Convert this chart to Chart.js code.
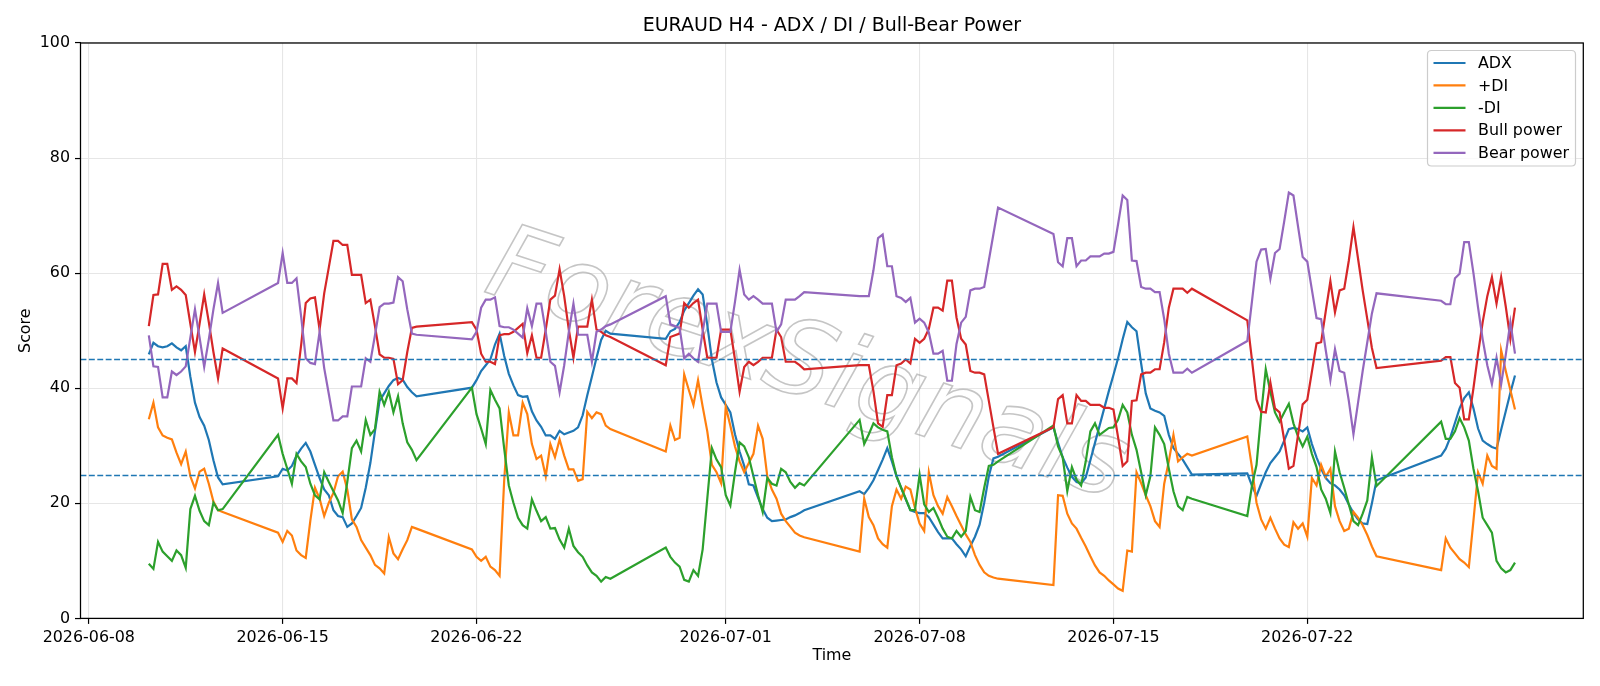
<!DOCTYPE html>
<html>
<head>
<meta charset="utf-8">
<script src="https://cdn.jsdelivr.net/npm/chart.js@4.4.1/dist/chart.umd.min.js"></script>
<style>
html,body{margin:0;padding:0;background:#ffffff;}
#wrap{width:1600px;height:686px;position:relative;}
</style>
</head>
<body>
<div id="wrap"><canvas id="c" width="1600" height="686"></canvas></div>
<script>
// ---- DATA (H4 bars, grouped by trading session: start time, bar count) ----
const sessions = [
  ["2026-06-10T04:00:00Z", 17],
  ["2026-06-14T20:00:00Z", 31],
  ["2026-06-21T20:00:00Z", 31],
  ["2026-06-28T20:00:00Z", 31],
  ["2026-07-05T20:00:00Z", 31],
  ["2026-07-12T20:00:00Z", 31],
  ["2026-07-19T20:00:00Z", 29],
  ["2026-07-26T20:00:00Z", 17]
];
const tickDates = ["2026-06-08","2026-06-15","2026-06-22","2026-07-01","2026-07-08","2026-07-15","2026-07-22"];
const yTicks = [0, 20, 40, 60, 80, 100];
const thresholds = [45, 25];
const seriesNames = ["ADX", "+DI", "-DI", "Bull power", "Bear power"];

const adx = [
  45.9,47.9,47.3,47.1,47.3,47.8,47.1,46.6,47.3,42.0,37.5,35.0,33.5,31.0,27.5,24.5,23.3,
  24.7,26.0,25.7,26.5,28.3,29.5,30.5,29.0,26.7,24.4,22.4,21.4,18.8,17.8,17.6,15.9,16.5,17.8,19.2,22.7,27.0,32.5,37.8,39.1,40.4,41.4,41.8,41.5,40.2,39.3,38.6,
  40.1,41.4,43.0,44.0,45.0,47.6,49.5,45.6,42.5,40.5,38.8,38.5,38.6,36.0,34.4,33.3,31.8,31.8,31.2,32.6,32.0,32.3,32.6,33.2,35.3,38.8,42.0,45.3,48.4,50.0,49.5,
  48.6,49.9,50.3,51.5,53.5,54.8,56.1,57.2,56.3,51.0,45.0,41.0,38.4,37.1,35.8,32.0,29.0,26.5,23.3,23.1,21.0,19.0,17.5,16.9,17.0,17.1,17.2,17.6,17.9,18.3,18.8,
  22.1,21.6,22.7,24.0,25.8,27.6,29.6,27.3,24.7,22.7,20.7,18.8,18.5,18.3,18.3,17.6,16.3,15.0,13.9,13.9,13.9,12.9,12.0,10.8,12.6,14.2,16.3,20.1,24.7,27.8,28.1,
  33.2,30.5,28.0,26.2,24.6,23.7,23.5,24.5,27.5,30.5,33.5,36.5,39.5,42.3,45.2,48.5,51.5,50.6,49.9,44.3,39.1,36.5,36.1,35.8,35.2,31.9,29.6,28.6,27.6,26.3,25.0,
  25.2,23.1,21.3,23.4,25.4,27.0,28.0,29.0,30.9,32.9,33.1,32.9,32.5,33.2,30.3,28.0,26.0,24.4,23.5,23.1,22.4,21.4,19.8,18.3,17.2,16.5,16.4,20.0,24.0,
  28.3,29.5,31.5,34.0,36.5,38.3,39.3,36.5,33.0,30.9,30.3,29.8,29.5,32.8,36.0,39.2,42.2
];
const plusDI = [
  34.6,37.5,33.2,31.8,31.4,31.1,28.8,26.8,29.0,24.7,22.6,25.5,26.0,23.4,20.3,18.8,18.5,
  14.9,13.3,15.2,14.4,11.8,11.0,10.5,17.0,22.7,20.8,17.8,20.1,21.8,24.7,25.5,22.4,17.2,15.9,13.6,12.3,11.0,9.3,8.7,7.8,14.1,11.3,10.3,12.0,13.6,15.9,15.6,
  12.0,10.7,10.0,10.7,9.0,8.4,7.4,24.0,35.8,31.8,31.8,37.5,35.5,30.3,27.7,28.3,24.7,30.3,28.0,31.1,28.3,25.9,25.9,23.9,24.2,35.9,34.8,35.8,35.5,33.5,32.9,
  29.0,33.5,31.0,31.4,42.4,39.7,37.1,41.4,36.8,32.5,26.7,25.4,23.5,36.8,33.5,29.9,27.3,25.4,27.0,28.6,33.5,31.2,24.7,22.4,20.8,18.2,16.9,15.9,14.9,14.4,14.1,
  11.6,20.8,17.6,16.2,13.9,12.9,12.3,19.5,22.4,20.8,22.9,22.4,19.2,16.5,15.2,25.4,21.4,19.5,18.2,21.1,19.5,17.8,16.2,14.6,13.3,11.0,9.3,8.0,7.4,7.1,6.9,
  5.8,21.4,21.3,18.2,16.5,15.6,14.0,12.5,10.8,9.2,8.0,7.4,6.6,5.9,5.2,4.8,11.8,11.6,25.4,23.5,21.4,19.5,16.9,15.9,23.4,27.3,31.9,27.3,28.0,28.6,28.3,
  31.6,26.3,20.1,17.2,15.6,17.5,15.6,13.9,12.8,12.4,16.7,15.6,16.5,14.2,24.4,23.1,26.7,24.6,26.0,19.5,16.9,15.2,15.6,18.5,17.5,16.2,14.5,12.5,10.8,
  8.4,13.9,12.3,11.3,10.3,9.7,8.9,17.0,25.4,23.4,28.3,26.5,26.0,46.6,43.0,39.7,36.3
];
const minusDI = [
  9.5,8.6,13.3,11.6,10.8,10.0,11.8,11.0,8.8,19.0,21.3,18.7,16.9,16.2,20.1,18.8,19.0,
  31.9,28.6,26.0,23.4,28.6,27.3,26.3,23.4,21.4,20.7,25.4,23.7,22.1,20.5,18.3,23.7,29.6,30.9,29.0,34.5,31.9,32.9,39.4,37.1,39.4,35.8,38.6,33.9,30.6,29.3,27.5,
  40.1,35.5,33.0,30.3,39.7,38.0,36.5,29.5,23.1,20.1,17.5,16.2,15.6,20.7,18.7,16.9,17.6,15.6,15.7,13.7,12.3,15.6,12.6,11.5,10.7,9.2,8.0,7.4,6.4,7.2,6.9,
  12.3,10.7,9.7,9.0,6.7,6.4,8.4,7.4,12.0,20.8,29.6,27.6,26.3,21.4,19.6,25.4,30.6,29.9,28.0,24.7,21.4,18.5,24.4,23.4,23.1,26.0,25.4,23.7,22.7,23.5,23.1,
  34.5,30.3,32.0,33.9,33.2,32.8,32.5,28.0,24.7,22.7,20.8,18.8,18.8,25.0,19.8,18.5,19.2,17.5,15.6,14.2,13.9,15.2,14.2,15.2,21.1,18.8,18.5,22.7,26.5,26.7,27.3,
  33.5,29.9,28.0,22.1,26.3,24.1,23.1,27.3,32.5,33.9,31.9,32.5,33.1,33.2,34.5,37.1,35.8,31.9,29.3,25.4,21.4,24.7,33.2,31.9,30.3,26.0,22.1,19.5,18.8,21.1,20.8,
  17.8,23.0,26.7,35.5,43.3,39.4,35.8,34.2,35.8,37.3,33.9,31.6,29.9,31.6,28.6,26.3,22.4,20.8,18.3,29.0,25.4,22.7,19.8,16.9,16.2,18.2,20.5,28.0,23.0,
  34.2,31.2,31.2,32.5,34.8,33.2,30.9,26.0,22.1,17.5,16.2,14.9,10.0,8.7,8.0,8.4,9.7
];
const bullPower = [
  50.8,56.2,56.3,61.6,61.6,57.1,57.7,57.1,56.2,51.2,46.3,51.2,56.3,51.5,46.3,41.7,46.9,
  41.7,36.5,41.7,41.7,40.9,47.5,54.8,55.6,55.8,50.2,56.5,61.0,65.6,65.6,64.9,64.9,59.7,59.7,59.7,54.8,55.4,50.8,45.9,45.3,45.3,45.1,40.7,41.4,46.3,50.5,50.7,
  51.5,50.2,46.0,44.6,44.6,44.2,49.2,49.4,49.4,49.8,50.5,51.2,46.1,49.2,45.3,45.3,50.2,55.4,56.1,60.7,56.0,50.2,45.3,50.7,50.7,50.7,55.4,50.2,49.8,49.2,48.9,
  44.0,48.9,49.2,49.5,54.8,54.0,54.8,55.4,50.2,45.3,45.3,45.3,50.2,50.2,50.2,45.0,39.4,43.7,44.6,44.0,44.6,45.3,45.3,45.3,50.2,48.9,44.6,44.6,44.6,44.0,43.3,
  44.0,44.0,44.0,39.5,33.9,33.3,38.8,38.8,44.0,44.3,45.0,44.3,48.6,47.9,48.6,50.3,54.0,54.0,53.5,58.7,58.7,52.3,48.6,47.6,43.0,42.7,42.7,42.4,37.8,33.2,28.6,
  33.2,38.1,38.8,33.9,33.9,38.8,37.8,37.8,37.1,37.1,37.1,36.6,36.6,36.3,31.5,26.5,27.3,37.8,37.9,42.4,42.7,42.7,43.3,43.3,48.0,54.0,57.3,57.3,57.3,56.6,57.3,
  51.8,45.0,38.0,35.9,35.8,41.0,36.5,35.8,31.0,26.0,26.5,31.9,37.2,38.0,42.9,47.8,48.0,53.4,58.6,53.2,57.0,57.3,62.2,68.0,62.5,57.0,52.0,47.0,43.5,
  44.8,45.4,45.4,40.9,40.1,34.6,34.6,40.0,46.0,51.5,56.0,59.3,54.7,59.3,54.2,48.5,54.0
];
const bearPower = [
  49.2,43.8,43.7,38.4,38.4,42.9,42.3,42.9,43.8,48.8,53.7,48.8,43.7,48.5,53.7,58.3,53.1,
  58.3,63.5,58.3,58.3,59.1,52.5,45.2,44.4,44.2,49.8,43.5,39.0,34.4,34.4,35.1,35.1,40.3,40.3,40.3,45.2,44.6,49.2,54.1,54.7,54.7,54.9,59.3,58.6,53.7,49.5,49.3,
  48.5,49.8,54.0,55.4,55.4,55.8,50.8,50.6,50.6,50.2,49.5,48.8,53.9,50.8,54.7,54.7,49.8,44.6,43.9,39.3,44.0,49.8,54.7,49.3,49.3,49.3,44.6,49.8,50.2,50.8,51.1,
  56.0,51.1,50.8,50.5,45.2,46.0,45.2,44.6,49.8,54.7,54.7,54.7,49.8,49.8,49.8,55.0,60.6,56.3,55.4,56.0,55.4,54.7,54.7,54.7,49.8,51.1,55.4,55.4,55.4,56.0,56.7,
  56.0,56.0,56.0,60.5,66.1,66.7,61.2,61.2,56.0,55.7,55.0,55.7,51.4,52.1,51.4,49.7,46.0,46.0,46.5,41.3,41.3,47.7,51.4,52.4,57.0,57.3,57.3,57.6,62.2,66.8,71.4,
  66.8,61.9,61.2,66.1,66.1,61.2,62.2,62.2,62.9,62.9,62.9,63.4,63.4,63.7,68.5,73.5,72.7,62.2,62.1,57.6,57.3,57.3,56.7,56.7,52.0,46.0,42.7,42.7,42.7,43.4,42.7,
  48.2,55.0,62.0,64.1,64.2,59.0,63.5,64.2,69.0,74.0,73.5,68.1,62.8,62.0,57.1,52.2,52.0,46.6,41.4,46.8,43.0,42.7,37.8,32.0,37.5,43.0,48.0,53.0,56.5,
  55.2,54.6,54.6,59.1,59.9,65.4,65.4,60.0,54.0,48.5,44.0,40.7,45.3,40.7,45.8,51.5,46.0
];

// ---- build time axis from sessions ----
const H4 = 4 * 3600 * 1000;
const times = [];
sessions.forEach(([start, n]) => {
  const t0 = Date.parse(start);
  for (let i = 0; i < n; i++) times.push(t0 + i * H4);
});
const tFirst = times[0], tLast = times[times.length - 1];
const margin = 0.05 * (tLast - tFirst);

const colors = ["#1f77b4", "#ff7f0e", "#2ca02c", "#d62728", "#9467bd"];
const values = [adx, plusDI, minusDI, bullPower, bearPower];

const FONT = "'DejaVu Sans', 'Liberation Sans', sans-serif";
const FS = 15.9;

const datasets = values.map((arr, k) => ({
  label: seriesNames[k],
  data: arr.map((v, i) => ({x: times[i], y: v})),
  borderColor: colors[k],
  backgroundColor: colors[k],
  borderWidth: 2.2,
  pointRadius: 0,
  pointHoverRadius: 0,
  tension: 0,
  fill: false,
  order: 5 - k
}));

const fmtDate = v => new Date(v).toISOString().slice(0, 10);

const decorPlugin = {
  id: 'decor',
  beforeDatasetsDraw(chart) {
    // watermark
    const ctx = chart.ctx;
    ctx.save();
    ctx.translate(798, 395);
    ctx.rotate(18.2 * Math.PI / 180);
    ctx.font = "italic 104px " + FONT;
    ctx.textAlign = 'center';
    ctx.textBaseline = 'alphabetic';
    ctx.strokeStyle = 'rgba(150,150,150,0.55)';
    ctx.lineWidth = 1.6;
    ctx.strokeText("ForexSignals", 0, 0);
    ctx.restore();
  },
  afterDatasetsDraw(chart) {
    const ctx = chart.ctx;
    const a = chart.chartArea;
    const ys = chart.scales.y;
    ctx.save();
    // threshold lines
    ctx.strokeStyle = '#1f77b4';
    ctx.lineWidth = 1.5;
    ctx.setLineDash([5.9, 2.5]);
    thresholds.forEach(v => {
      const y = Math.round(ys.getPixelForValue(v)) + 0.5;
      ctx.beginPath();
      ctx.moveTo(a.left, y);
      ctx.lineTo(a.right, y);
      ctx.stroke();
    });
    ctx.setLineDash([]);
    // spines
    ctx.strokeStyle = '#000000';
    ctx.lineWidth = 1.27;
    ctx.strokeRect(a.left, a.top, a.right - a.left, a.bottom - a.top);
    ctx.restore();
  },
  afterDraw(chart) {
    const ctx = chart.ctx;
    const a = chart.chartArea;
    ctx.save();
    // title
    ctx.fillStyle = '#000';
    ctx.font = "19px " + FONT;
    ctx.textAlign = 'center';
    ctx.textBaseline = 'middle';
    ctx.fillText("EURAUD H4 - ADX / DI / Bull-Bear Power", (a.left + a.right) / 2, 26);
    // legend
    const bx = 1427.5, by = 50.5, bw = 148, bh = 115.5, r = 4;
    ctx.beginPath();
    ctx.moveTo(bx + r, by);
    ctx.lineTo(bx + bw - r, by);
    ctx.quadraticCurveTo(bx + bw, by, bx + bw, by + r);
    ctx.lineTo(bx + bw, by + bh - r);
    ctx.quadraticCurveTo(bx + bw, by + bh, bx + bw - r, by + bh);
    ctx.lineTo(bx + r, by + bh);
    ctx.quadraticCurveTo(bx, by + bh, bx, by + bh - r);
    ctx.lineTo(bx, by + r);
    ctx.quadraticCurveTo(bx, by, bx + r, by);
    ctx.closePath();
    ctx.fillStyle = 'rgba(255,255,255,0.8)';
    ctx.fill();
    ctx.strokeStyle = '#cccccc';
    ctx.lineWidth = 1.2;
    ctx.stroke();
    ctx.font = FS + "px " + FONT;
    ctx.textAlign = 'left';
    ctx.textBaseline = 'middle';
    chart.data.datasets.forEach((ds, k) => {
      const y = 63 + k * 22.45;
      ctx.strokeStyle = ds.borderColor;
      ctx.lineWidth = 2.2;
      ctx.beginPath();
      ctx.moveTo(bx + 6, y);
      ctx.lineTo(bx + 38, y);
      ctx.stroke();
      ctx.fillStyle = '#000';
      ctx.fillText(ds.label, bx + 50.5, y + 1);
    });
    ctx.restore();
  }
};

new Chart(document.getElementById('c'), {
  type: 'line',
  data: {datasets},
  options: {
    responsive: false,
    animation: false,
    devicePixelRatio: 1,
    events: [],
    layout: {padding: {left: 0, right: 16.7, top: 43, bottom: 0}},
    plugins: {legend: {display: false}, title: {display: false}, tooltip: {enabled: false}},
    scales: {
      x: {
        type: 'linear',
        min: tFirst - margin,
        max: tLast + margin,
        afterBuildTicks: s => { s.ticks = tickDates.map(d => ({value: Date.parse(d + "T00:00:00Z")})); },
        afterFit: s => { s.height = 67.6; },
        ticks: {
          callback: v => fmtDate(v),
          autoSkip: false, maxRotation: 0, minRotation: 0,
          color: '#000', padding: 4,
          font: {family: FONT, size: FS}
        },
        grid: {color: '#e6e6e6', lineWidth: 1.1, tickColor: '#000', tickLength: 5.5, tickWidth: 1.2},
        border: {display: false},
        title: {display: true, text: 'Time', color: '#000', font: {family: FONT, size: FS}, padding: {top: 0, bottom: 20.5}}
      },
      y: {
        type: 'linear',
        min: 0, max: 100,
        afterBuildTicks: s => { s.ticks = yTicks.map(v => ({value: v})); },
        afterFit: s => { s.width = 80.5; },
        ticks: {color: '#000', padding: 5, font: {family: FONT, size: FS}},
        grid: {color: '#e6e6e6', lineWidth: 1.1, tickColor: '#000', tickLength: 5.5, tickWidth: 1.2},
        border: {display: false},
        title: {display: true, text: 'Score', color: '#000', font: {family: FONT, size: FS}, padding: {top: 16, bottom: 0}}
      }
    }
  },
  plugins: [decorPlugin]
});
</script>
</body>
</html>
